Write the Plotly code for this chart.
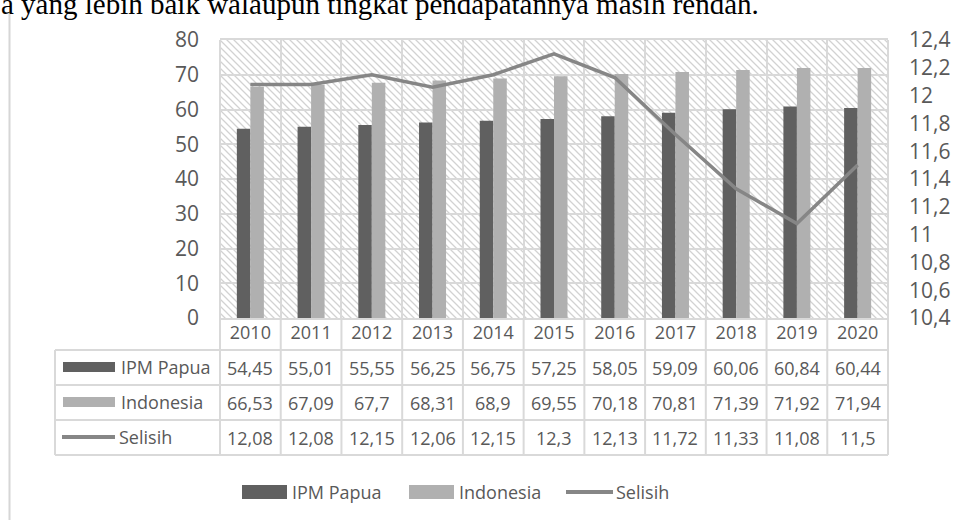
import base64
import plotly.graph_objects as go

# ---------------- data ----------------
years = ["2010", "2011", "2012", "2013", "2014", "2015", "2016", "2017", "2018", "2019", "2020"]
ipm_papua = [54.45, 55.01, 55.55, 56.25, 56.75, 57.25, 58.05, 59.09, 60.06, 60.84, 60.44]
indonesia = [66.53, 67.09, 67.70, 68.31, 68.90, 69.55, 70.18, 70.81, 71.39, 71.92, 71.94]
selisih = [12.08, 12.08, 12.15, 12.06, 12.15, 12.30, 12.13, 11.72, 11.33, 11.08, 11.50]
series_names = ["IPM Papua", "Indonesia", "Selisih"]
caption = "a yang lebih baik walaupun tingkat pendapatannya masih rendah."

# ---------------- layout geometry (pixels) ----------------
W, H = 959, 520
L, R, T, B = 220, 888, 40, 318


def px(x):
    return (x - L) / (R - L)


def py(y):
    return (B - y) / (B - T)


C_DARK = "#606060"
C_LIGHT = "#b0b0b0"
C_LINE = "#868686"
C_GRID = "#d9d9d9"
C_TEXT = "#595959"
FONT = "Open Sans"
FS = 18
FS_AX = 21

# hatch background as svg image
pw, ph = R - L, B - T
svg = (
    f"<svg xmlns='http://www.w3.org/2000/svg' width='{pw}' height='{ph}' viewBox='0 0 {pw} {ph}' preserveAspectRatio='none'>"
    "<defs><pattern id='p' width='7' height='7' patternUnits='userSpaceOnUse'>"
    "<path d='M0,0 L7,7 M-1,6 L1,8 M6,-1 L8,1' stroke='#d2d2d2' stroke-width='1.3'/>"
    "</pattern></defs>"
    f"<rect width='{pw}' height='{ph}' fill='white'/>"
    f"<rect width='{pw}' height='{ph}' fill='url(#p)'/></svg>"
)
src = "data:image/svg+xml;base64," + base64.b64encode(svg.encode()).decode()

fig = go.Figure()
fig.add_trace(go.Bar(x=years, y=ipm_papua, name=series_names[0], marker_color=C_DARK, marker_line_width=0))
fig.add_trace(go.Bar(x=years, y=indonesia, name=series_names[1], marker_color=C_LIGHT, marker_line_width=0))
fig.add_trace(go.Scatter(x=years, y=selisih, name=series_names[2], mode="lines",
                         line=dict(color=C_LINE, width=3.5), yaxis="y2"))

shapes = []
annotations = []


def hline(y, x0, x1):
    shapes.append(dict(type="line", xref="paper", yref="paper", x0=px(x0), x1=px(x1), y0=py(y), y1=py(y),
                       line=dict(color=C_GRID, width=2), layer="above"))


def vline_px(x, y0, y1):
    shapes.append(dict(type="line", xref="paper", yref="paper", x0=px(x), x1=px(x), y0=py(y0), y1=py(y1),
                       line=dict(color=C_GRID, width=2), layer="above"))


# table grid
for yy in [350, 385, 420, 455]:
    hline(yy, 55, R)
vline_px(55, 350, 455)
vline_px(L, T, 455)
vline_px(R, T, 455)
for i in range(1, len(years)):
    shapes.append(dict(type="line", xref="x", yref="paper", x0=i - 0.5, x1=i - 0.5, y0=py(B), y1=py(455),
                       line=dict(color=C_GRID, width=2), layer="above"))

# table rows (category axis -> annotation x uses category index)
rows = [ipm_papua, indonesia, selisih]
row_centers = [367.5, 402.5, 437.5]
for vals, yc in zip(rows, row_centers):
    for i, v in enumerate(vals):
        annotations.append(dict(x=i, xref="x", y=py(yc), yref="paper", text=f"{v:g}".replace(".", ","),
                                showarrow=False, xanchor="center", yanchor="middle",
                                font=dict(family=FONT, size=FS, color=C_TEXT)))


def legend_item(x_sym0, x_sym1, yc, kind, color, text, x_text, hgt):
    if kind == "rect":
        shapes.append(dict(type="rect", xref="paper", yref="paper", x0=px(x_sym0), x1=px(x_sym1),
                           y0=py(yc - hgt / 2), y1=py(yc + hgt / 2), fillcolor=color, line=dict(width=0),
                           layer="above"))
    else:
        shapes.append(dict(type="line", xref="paper", yref="paper", x0=px(x_sym0), x1=px(x_sym1),
                           y0=py(yc), y1=py(yc), line=dict(color=color, width=4), layer="above"))
    annotations.append(dict(x=px(x_text), xref="paper", y=py(yc), yref="paper", text=text, showarrow=False,
                            xanchor="left", yanchor="middle", font=dict(family=FONT, size=FS, color=C_TEXT)))


# table row headers
legend_item(63, 115, 367, "rect", C_DARK, series_names[0], 119, 10)
legend_item(63, 115, 402, "rect", C_LIGHT, series_names[1], 119, 10)
legend_item(62, 115, 437, "line", C_LINE, series_names[2], 117, 0)

# bottom legend
legend_item(242, 287, 492, "rect", C_DARK, series_names[0], 290, 14)
legend_item(409, 454, 492, "rect", C_LIGHT, series_names[1], 457, 14)
legend_item(566, 613, 492, "line", C_LINE, series_names[2], 614, 0)

# page border line at left
shapes.append(dict(type="line", xref="paper", yref="paper", x0=px(9.5), x1=px(9.5), y0=py(13), y1=py(530),
                   line=dict(color="#d6d6d6", width=2)))

# caption text (cut off at top)
annotations.append(dict(x=px(-1), xref="paper", y=py(22), yref="paper", text=caption, showarrow=False,
                        xanchor="left", yanchor="bottom",
                        font=dict(family="Liberation Serif", size=29, color="black")))

fig.update_layout(
    width=W, height=H, autosize=False,
    margin=dict(l=L, r=W - R, t=T, b=H - B, autoexpand=False),
    paper_bgcolor="white", plot_bgcolor="rgba(0,0,0,0)",
    barmode="group", bargap=0.555, bargroupgap=0,
    showlegend=False, separators=",.",
    font=dict(family=FONT, size=FS, color=C_TEXT),
    xaxis=dict(type="category", range=[-0.5, len(years) - 0.5], tickson="boundaries", showgrid=True,
               gridcolor=C_GRID, gridwidth=2, ticks="", showline=True, linecolor=C_GRID, linewidth=2,
               mirror=True, ticklabelstandoff=-3, tickfont=dict(family=FONT, size=FS, color=C_TEXT)),
    yaxis=dict(range=[0, 80], dtick=10, showgrid=True, gridcolor=C_GRID, gridwidth=2, zeroline=False,
               ticks="", showline=False, ticklabelstandoff=20,
               tickfont=dict(family=FONT, size=FS_AX, color=C_TEXT)),
    yaxis2=dict(range=[10.4, 12.4], dtick=0.2, overlaying="y", side="right", showgrid=False, zeroline=False,
                ticks="", showline=False, ticklabelstandoff=20,
                tickfont=dict(family=FONT, size=FS_AX, color=C_TEXT)),
    images=[dict(source=src, xref="paper", yref="paper", x=0, y=1, sizex=1, sizey=1, xanchor="left",
                 yanchor="top", sizing="stretch", layer="below")],
    shapes=shapes,
    annotations=annotations,
)

fig.write_html("out.html", config={"displayModeBar": False, "staticPlot": True},
               post_script="document.body.style.margin='0';document.body.style.overflow='hidden';")
